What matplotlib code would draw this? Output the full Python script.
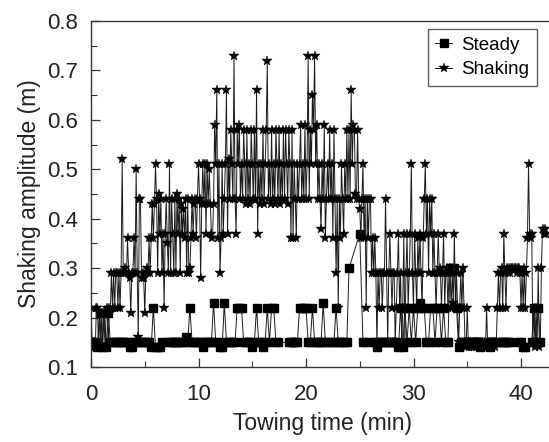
import numpy as np
import matplotlib.pyplot as plt
from matplotlib.ticker import MultipleLocator

plt.rcParams['font.family'] = ['Liberation Sans', 'DejaVu Sans']

# shaking series, sampled every 0.1 min (one row = one minute)
shaking_step = 0.1
shaking_amp = [
    0.22, 0.15, 0.14, 0.15, 0.14, 0.22, 0.22, 0.14, 0.21, 0.14,
    0.21, 0.14, 0.21, 0.14, 0.21, 0.22, 0.14, 0.22, 0.21, 0.29,
    0.22, 0.29, 0.22, 0.29, 0.29, 0.22, 0.29, 0.22, 0.29, 0.52,
    0.29, 0.29, 0.30, 0.29, 0.36, 0.29, 0.28, 0.21, 0.29, 0.29,
    0.36, 0.29, 0.50, 0.29, 0.16, 0.44, 0.44, 0.28, 0.29, 0.28,
    0.21, 0.29, 0.30, 0.29, 0.36, 0.29, 0.36, 0.43, 0.36, 0.43,
    0.51, 0.44, 0.29, 0.45, 0.37, 0.44, 0.29, 0.37, 0.22, 0.37,
    0.44, 0.35, 0.29, 0.51, 0.29, 0.44, 0.37, 0.29, 0.44, 0.29,
    0.45, 0.37, 0.44, 0.29, 0.43, 0.37, 0.42, 0.36, 0.44, 0.29,
    0.44, 0.29, 0.30, 0.36, 0.44, 0.37, 0.43, 0.44, 0.36, 0.44,
    0.51, 0.44, 0.28, 0.43, 0.51, 0.43, 0.51, 0.37, 0.51, 0.43,
    0.50, 0.43, 0.37, 0.36, 0.43, 0.59, 0.51, 0.66, 0.36, 0.51,
    0.29, 0.36, 0.51, 0.37, 0.44, 0.51, 0.66, 0.37, 0.52, 0.44,
    0.58, 0.51, 0.44, 0.73, 0.44, 0.37, 0.58, 0.51, 0.59, 0.44,
    0.51, 0.44, 0.58, 0.51, 0.43, 0.58, 0.44, 0.51, 0.43, 0.58,
    0.51, 0.44, 0.58, 0.44, 0.66, 0.37, 0.51, 0.43, 0.51, 0.44,
    0.58, 0.43, 0.51, 0.58, 0.72, 0.44, 0.51, 0.43, 0.58, 0.44,
    0.51, 0.43, 0.58, 0.51, 0.44, 0.58, 0.43, 0.51, 0.44, 0.58,
    0.44, 0.58, 0.51, 0.43, 0.58, 0.51, 0.36, 0.58, 0.36, 0.51,
    0.44, 0.36, 0.51, 0.44, 0.51, 0.59, 0.44, 0.51, 0.44, 0.59,
    0.44, 0.51, 0.73, 0.44, 0.58, 0.51, 0.65, 0.58, 0.73, 0.51,
    0.59, 0.44, 0.51, 0.44, 0.38, 0.51, 0.44, 0.59, 0.36, 0.44,
    0.51, 0.44, 0.58, 0.44, 0.51, 0.36, 0.58, 0.44, 0.29, 0.44,
    0.22, 0.44, 0.36, 0.51, 0.44, 0.37, 0.51, 0.44, 0.58, 0.44,
    0.58, 0.44, 0.66, 0.51, 0.59, 0.58, 0.45, 0.44, 0.58, 0.44,
    0.42, 0.36, 0.44, 0.51, 0.36, 0.44, 0.22, 0.44, 0.36, 0.44,
    0.44, 0.29, 0.36, 0.29, 0.36, 0.29, 0.14, 0.29, 0.22, 0.29,
    0.29, 0.22, 0.29, 0.29, 0.44, 0.29, 0.15, 0.29, 0.37, 0.29,
    0.22, 0.29, 0.29, 0.15, 0.22, 0.29, 0.37, 0.22, 0.29, 0.14,
    0.22, 0.37, 0.14, 0.29, 0.37, 0.22, 0.29, 0.37, 0.51, 0.29,
    0.22, 0.37, 0.29, 0.22, 0.36, 0.29, 0.37, 0.29, 0.22, 0.36,
    0.44, 0.51, 0.37, 0.44, 0.29, 0.44, 0.37, 0.44, 0.29, 0.37,
    0.29, 0.22, 0.29, 0.37, 0.29, 0.30, 0.22, 0.29, 0.37, 0.22,
    0.29, 0.30, 0.22, 0.29, 0.30, 0.22, 0.29, 0.23, 0.37, 0.22,
    0.29, 0.22, 0.15, 0.22, 0.29, 0.22, 0.30, 0.22, 0.15, 0.14,
    0.22, 0.15, 0.14, 0.15, 0.14, 0.15, 0.14, 0.15, 0.14, 0.15,
    0.15, 0.14, 0.15, 0.14, 0.15, 0.14, 0.15, 0.14, 0.22, 0.14,
    0.15, 0.14, 0.15, 0.14, 0.15, 0.15, 0.14, 0.15, 0.22, 0.29,
    0.22, 0.29, 0.30, 0.22, 0.37, 0.29, 0.22, 0.30, 0.29, 0.30,
    0.29, 0.30, 0.30, 0.30, 0.30, 0.30, 0.29, 0.30, 0.30, 0.29,
    0.22, 0.29, 0.22, 0.30, 0.22, 0.29, 0.36, 0.51, 0.37, 0.36,
    0.37, 0.15, 0.22, 0.14, 0.22, 0.15, 0.30, 0.14, 0.15, 0.30,
    0.38, 0.37, 0.38, 0.37,
]
shaking_time = np.arange(len(shaking_amp)) * shaking_step

# steady series, irregular sampling
steady_time = [
    0.0, 0.2, 0.4, 0.6, 0.8, 1.0, 1.2, 1.4, 1.6, 1.8, 2.0, 2.2, 2.4, 2.6, 2.8,
    3.0, 3.2, 3.4, 3.6, 3.8, 4.0, 4.2, 4.4, 4.6, 4.8, 5.0, 5.2, 5.4, 5.6, 5.8,
    6.0, 6.2, 6.4, 6.6,
    7.2, 7.4, 7.6, 7.8, 8.0, 8.2, 8.4, 8.6, 8.8, 9.0, 9.2, 9.4, 9.6, 9.8,
    10.0, 10.2, 10.4, 10.6, 10.8, 11.0, 11.2, 11.4, 11.6, 11.8, 12.0, 12.2,
    12.4, 12.6, 12.8, 13.0, 13.2, 13.4, 13.6, 13.8, 14.0, 14.2, 14.4, 14.6,
    14.8, 15.0, 15.2, 15.4, 15.6, 15.8, 16.0, 16.2, 16.4, 16.6, 16.8, 17.0,
    17.2, 17.4,
    18.4, 18.6, 18.8, 19.0, 19.2, 19.4, 19.6, 19.8, 20.0, 20.2, 20.4, 20.6,
    20.8, 21.0, 21.2, 21.4, 21.6, 21.8, 22.0, 22.4, 22.6, 22.8, 23.0, 23.2,
    23.4, 23.6, 23.8, 24.0, 25.0, 25.3, 25.5,
    26.2, 26.4, 26.6, 26.8, 27.0, 27.2, 27.4, 27.6, 27.8, 28.0, 28.2, 28.4,
    28.6, 28.8, 29.0, 29.2, 29.4, 29.6, 29.8, 30.0, 30.2, 30.4, 30.6, 30.8,
    31.0, 31.2, 31.4, 31.6, 31.8, 32.0, 32.2, 32.4, 32.6, 32.8, 33.0, 33.2,
    33.4, 33.6, 33.8, 34.0, 34.2, 34.4, 34.6, 34.8, 35.0, 35.2, 35.4, 35.6,
    35.8, 36.0, 36.2,
    36.9, 37.1, 37.3,
    37.8, 38.0, 38.2, 38.4, 38.6, 38.8, 39.0,
    39.8, 40.0, 40.2, 40.4,
    41.0, 41.2, 41.4, 41.6, 41.8,
]
steady_amp = [
    0.15, 0.15, 0.15, 0.14, 0.21, 0.14, 0.21, 0.14, 0.21, 0.15, 0.15, 0.15, 0.15, 0.15, 0.15,
    0.15, 0.15, 0.15, 0.14, 0.14, 0.15, 0.15, 0.15, 0.15, 0.15, 0.15, 0.15, 0.15, 0.14, 0.22,
    0.14, 0.14, 0.14, 0.15,
    0.15, 0.15, 0.15, 0.15, 0.15, 0.15, 0.15, 0.15, 0.16, 0.15, 0.22, 0.15, 0.15, 0.15,
    0.15, 0.15, 0.14, 0.15, 0.15, 0.15, 0.15, 0.23, 0.15, 0.15, 0.14, 0.14,
    0.23, 0.15, 0.15, 0.15, 0.15, 0.15, 0.22, 0.22, 0.22, 0.15, 0.15, 0.15,
    0.15, 0.14, 0.15, 0.22, 0.15, 0.15, 0.14, 0.15, 0.22, 0.15, 0.22, 0.22,
    0.15, 0.15,
    0.15, 0.15, 0.15, 0.15, 0.15, 0.22, 0.22, 0.22, 0.22, 0.15, 0.15, 0.22,
    0.15, 0.15, 0.15, 0.15, 0.23, 0.15, 0.15, 0.15, 0.15, 0.22, 0.15, 0.15,
    0.15, 0.15, 0.15, 0.30, 0.37, 0.15, 0.15,
    0.15, 0.15, 0.14, 0.15, 0.15, 0.15, 0.15, 0.15, 0.15, 0.15, 0.15, 0.15,
    0.14, 0.22, 0.14, 0.22, 0.15, 0.22, 0.15, 0.22, 0.15, 0.22, 0.23, 0.22,
    0.22, 0.15, 0.15, 0.22, 0.22, 0.15, 0.22, 0.22, 0.15, 0.22, 0.15, 0.15,
    0.30, 0.30, 0.30, 0.22, 0.14, 0.15, 0.15, 0.15, 0.15, 0.15, 0.15, 0.15,
    0.15, 0.15, 0.14,
    0.15, 0.14, 0.15,
    0.15, 0.15, 0.15, 0.15, 0.15, 0.15, 0.15,
    0.15, 0.15, 0.14, 0.14,
    0.15, 0.22, 0.15, 0.22, 0.15,
]

fig = plt.figure(figsize=(5.49, 4.42), dpi=100)
ax_w = 43 * 10.75
ax = fig.add_axes([91 / 549, 75 / 442, ax_w / 549, 346 / 442])

ax.plot(steady_time, steady_amp, color='#1a1a1a', lw=0.7, marker='s',
        ms=5.5, mfc='black', mec='black', label='Steady')
ax.plot(shaking_time, shaking_amp, color='#1a1a1a', lw=0.7, marker='*',
        ms=7.5, mfc='black', mec='black', mew=0.3, label='Shaking')

ax.set_xlim(0, 43)
ax.set_ylim(0.1, 0.8)
ax.xaxis.set_major_locator(MultipleLocator(10))
ax.xaxis.set_minor_locator(MultipleLocator(5))
ax.yaxis.set_minor_locator(MultipleLocator(0.05))
ax.set_yticks(np.arange(0.1, 0.81, 0.1))
ax.set_yticklabels([f'{v:.1f}' for v in np.arange(0.1, 0.81, 0.1)])

ax.tick_params(which='both', direction='in', top=False, right=False,
               color='#333333', labelsize=16, labelcolor='#222222')
ax.tick_params(which='major', length=6.5, width=0.9)
ax.tick_params(which='minor', length=4, width=0.8)
ax.tick_params(axis='x', pad=12)
ax.tick_params(axis='y', pad=9)
for side in ['left', 'bottom', 'top']:
    ax.spines[side].set_color('#333333')
    ax.spines[side].set_linewidth(1.0)
ax.spines['right'].set_visible(False)

ax.set_xlabel('Towing time (min)', fontsize=16.5, color='#222222', labelpad=5)
ax.set_ylabel('Shaking amplitude (m)', fontsize=16.5, color='#222222', labelpad=5)

leg = ax.legend(loc='upper right',
                bbox_to_anchor=((537 - 91) / ax_w, 1 - 8 / 346),
                bbox_transform=ax.transAxes, fontsize=13.5, frameon=True,
                fancybox=False, edgecolor='#333333', handlelength=0.9,
                handletextpad=0.5, borderpad=0.4, labelspacing=0.4,
                borderaxespad=0)
leg.get_frame().set_linewidth(1.0)

fig.savefig('out.png', dpi=100)
